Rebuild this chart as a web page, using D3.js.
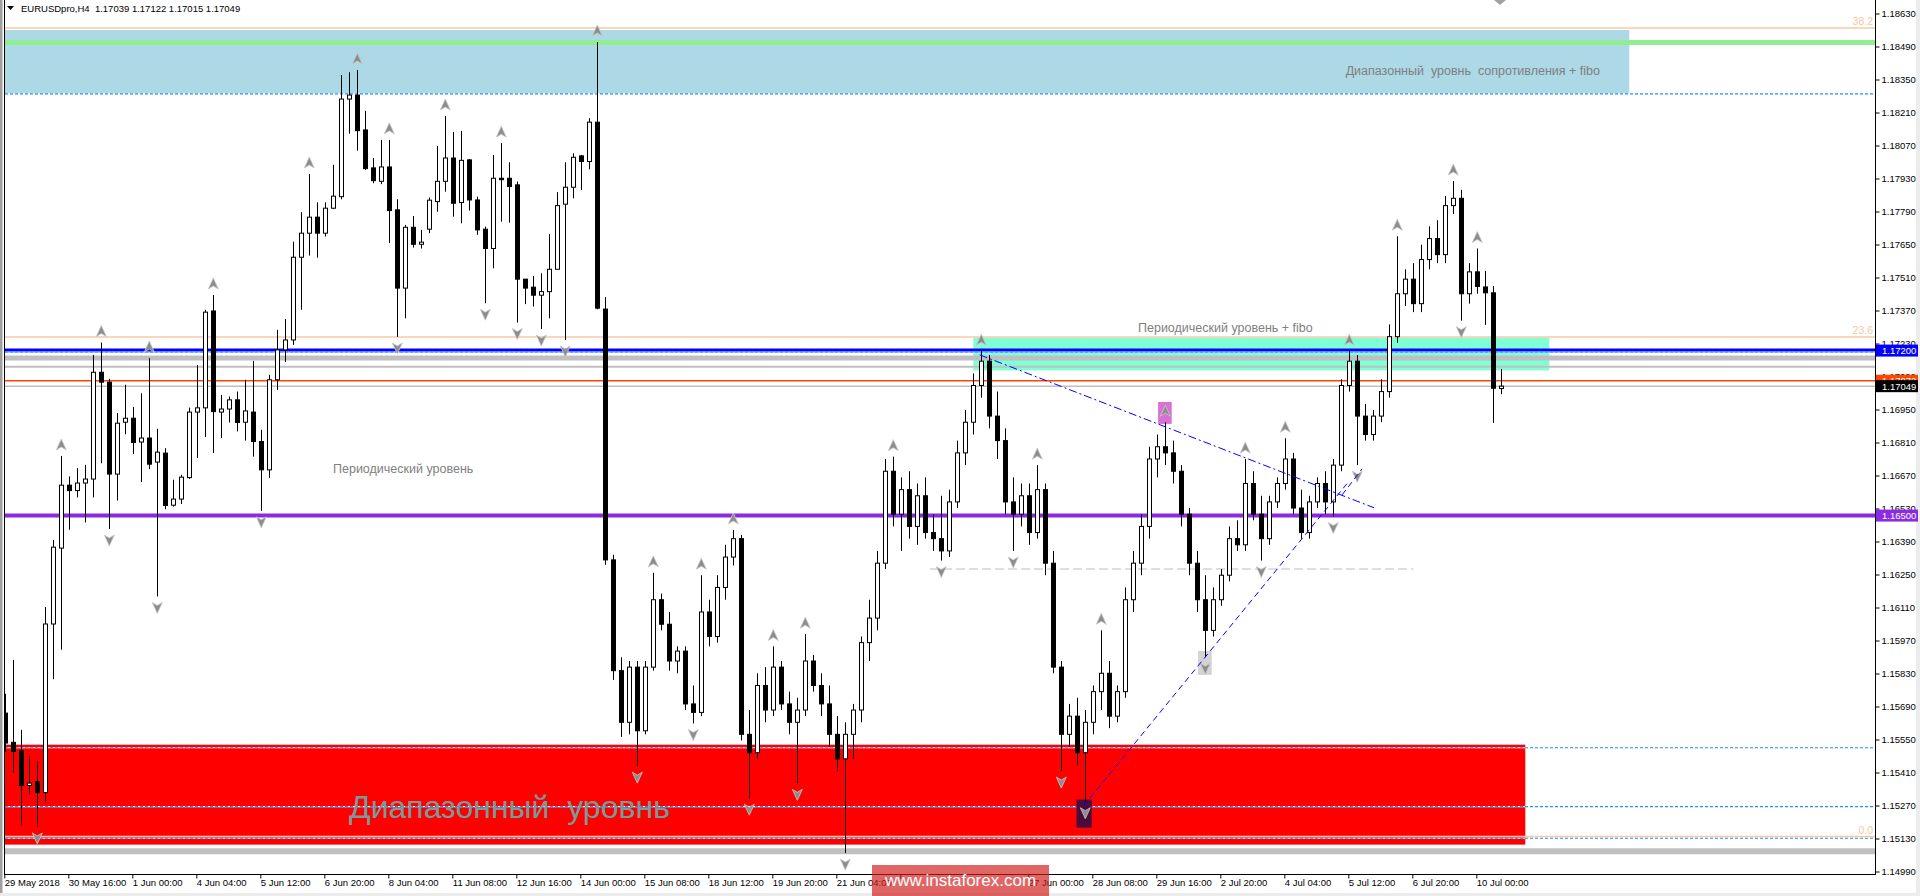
<!DOCTYPE html>
<html><head><meta charset="utf-8">
<script src="https://cdn.jsdelivr.net/npm/d3@7"></script>
<style>
html,body{margin:0;padding:0;background:#fff;overflow:hidden}
svg{display:block}
text{font-family:"Liberation Sans",Arial,sans-serif}
</style>
</head><body>
<svg id="c" width="1920" height="896"></svg>
<script>
// ---- data (EURUSDpro, H4) ----
const opens  = [1.15662,1.15538,1.15502,1.15355,1.15371,1.15325,1.16040,1.16362,1.16629,1.16606,1.16638,1.16655,1.17108,1.17066,1.16676,1.16896,1.16913,1.16812,1.16829,1.16727,
1.16765,1.16544,1.16570,1.16661,1.16939,1.16957,1.17368,1.16939,1.16952,1.16991,1.16896,1.16939,1.16814,1.16694,1.17076,1.17203,1.17245,1.17596,1.17698,1.17766,
1.17698,1.17804,1.17853,1.18267,1.18284,1.18136,1.17975,1.17918,1.17979,1.17797,1.17465,1.17723,1.17651,1.17715,1.17832,1.17918,1.18017,1.17828,1.18009,1.17839,
1.17715,1.17633,1.17931,1.17931,1.17903,1.17503,1.17469,1.17435,1.17450,1.17545,1.17821,1.17893,1.18026,1.18002,1.18169,1.17376,1.16312,1.15842,1.15623,1.15857,
1.15587,1.15857,1.16143,1.16039,1.15883,1.15925,1.15701,1.15665,1.16091,1.15987,1.16195,1.16324,1.16402,1.15572,1.15494,1.15779,1.15675,1.15857,1.15701,1.15623,
1.15675,1.15883,1.15779,1.15701,1.15572,1.15468,1.15572,1.15675,1.15961,1.16065,1.16298,1.16688,1.16506,1.16610,1.16454,1.16584,1.16428,1.16402,1.16350,1.16558,
1.16766,1.16896,1.17052,1.17155,1.16922,1.16818,1.16558,1.16506,1.16584,1.16428,1.16610,1.16298,1.15857,1.15572,1.15649,1.15494,1.15623,1.15753,1.15831,1.15649,
1.15753,1.16143,1.16298,1.16454,1.16740,1.16792,1.16766,1.16688,1.16506,1.16298,1.16143,1.16013,1.16143,1.16247,1.16402,1.16376,1.16636,1.16506,1.16402,1.16558,
1.16636,1.16740,1.16532,1.16428,1.16558,1.16636,1.16558,1.16714,1.17052,1.17155,1.16922,1.16844,1.16922,1.17026,1.17259,1.17441,1.17503,1.17399,1.17586,1.17675,
1.17607,1.17815,1.17846,1.17441,1.17534,1.17470,1.17445,1.17039];
const highs  = [1.15744,1.15888,1.15591,1.15481,1.15457,1.16112,1.16397,1.16753,1.16666,1.16701,1.16715,1.17182,1.17234,1.17080,1.16935,1.17055,1.16961,1.17019,1.17168,1.16868,
1.16786,1.16652,1.16673,1.16958,1.17139,1.17373,1.17436,1.17012,1.17005,1.17026,1.17076,1.17156,1.16864,1.17097,1.17288,1.17334,1.17662,1.17787,1.17949,1.17829,
1.17829,1.17988,1.18369,1.18381,1.18390,1.18217,1.18017,1.18094,1.18094,1.17842,1.17733,1.17771,1.17712,1.17849,1.18068,1.18195,1.18128,1.18132,1.18013,1.17853,
1.17726,1.18030,1.18080,1.17999,1.17917,1.17503,1.17517,1.17528,1.17694,1.17872,1.17999,1.18037,1.18030,1.18186,1.18509,1.17427,1.16334,1.15899,1.15883,1.15883,
1.15883,1.16257,1.16169,1.16091,1.15945,1.15945,1.15779,1.16247,1.16143,1.16247,1.16376,1.16439,1.16418,1.15675,1.15831,1.15857,1.15945,1.15883,1.15753,1.15727,
1.15997,1.15909,1.15831,1.15779,1.15649,1.15623,1.15701,1.15987,1.16143,1.16350,1.16740,1.16750,1.16662,1.16688,1.16636,1.16662,1.16506,1.16584,1.16610,1.16818,
1.16948,1.17103,1.17197,1.17181,1.17026,1.16870,1.16662,1.16636,1.16636,1.16714,1.16636,1.16350,1.15883,1.15701,1.15727,1.15675,1.15779,1.16013,1.15883,1.15779,
1.16195,1.16350,1.16506,1.16792,1.16844,1.16896,1.16818,1.16714,1.16532,1.16350,1.16247,1.16195,1.16273,1.16454,1.16480,1.16740,1.16688,1.16584,1.16584,1.16662,
1.16828,1.16766,1.16610,1.16584,1.16662,1.16688,1.16740,1.17078,1.17197,1.17181,1.16974,1.16948,1.17078,1.17311,1.17685,1.17545,1.17571,1.17649,1.17727,1.17753,
1.17856,1.17919,1.17882,1.17571,1.17633,1.17538,1.17474,1.17122];
const lows   = [1.15498,1.15410,1.15184,1.15316,1.15179,1.15283,1.15806,1.15931,1.16440,1.16577,1.16471,1.16577,1.16722,1.16443,1.16564,1.16845,1.16761,1.16642,1.16697,1.16157,
1.16527,1.16538,1.16549,1.16656,1.16744,1.16833,1.16765,1.16829,1.16895,1.16857,1.16818,1.16750,1.16520,1.16660,1.17033,1.17152,1.17224,1.17373,1.17603,1.17594,
1.17684,1.17800,1.17842,1.18120,1.18048,1.17966,1.17910,1.17906,1.17656,1.17258,1.17337,1.17637,1.17633,1.17698,1.17789,1.17874,1.17768,1.17740,1.17794,1.17691,
1.17401,1.17549,1.17747,1.17743,1.17319,1.17397,1.17387,1.17291,1.17337,1.17545,1.17245,1.17846,1.17881,1.17969,1.17375,1.16291,1.15803,1.15561,1.15572,1.15437,
1.15572,1.15842,1.16013,1.15842,1.15831,1.15675,1.15618,1.15649,1.15945,1.15961,1.16143,1.16288,1.15546,1.15301,1.15468,1.15623,1.15649,1.15675,1.15572,1.15364,
1.15649,1.15753,1.15649,1.15520,1.15416,1.15068,1.15468,1.15623,1.15883,1.16013,1.16273,1.16454,1.16350,1.16402,1.16376,1.16402,1.16350,1.16309,1.16324,1.16532,
1.16714,1.16844,1.17000,1.16870,1.16740,1.16506,1.16350,1.16454,1.16376,1.16402,1.16247,1.15831,1.15416,1.15520,1.15442,1.15286,1.15572,1.15675,1.15598,1.15623,
1.15727,1.16091,1.16247,1.16402,1.16662,1.16714,1.16636,1.16454,1.16247,1.16091,1.15899,1.15987,1.16117,1.16221,1.16350,1.16350,1.16480,1.16309,1.16376,1.16532,
1.16610,1.16506,1.16402,1.16402,1.16532,1.16506,1.16496,1.16688,1.17026,1.16714,1.16818,1.16818,1.16896,1.17000,1.17233,1.17389,1.17363,1.17363,1.17545,1.17571,
1.17571,1.17779,1.17327,1.17399,1.17441,1.17309,1.16893,1.17015];
const closes = [1.15535,1.15499,1.15355,1.15365,1.15325,1.16040,1.16366,1.16629,1.16606,1.16638,1.16655,1.17108,1.17066,1.16676,1.16892,1.16913,1.16810,1.16829,1.16718,1.16769,
1.16543,1.16570,1.16663,1.16939,1.16957,1.17363,1.16941,1.16952,1.16991,1.16895,1.16944,1.16814,1.16694,1.17076,1.17203,1.17245,1.17596,1.17698,1.17766,1.17698,
1.17804,1.17855,1.18267,1.18284,1.18133,1.17972,1.17921,1.17979,1.17794,1.17465,1.17723,1.17651,1.17660,1.17838,1.17918,1.18017,1.17825,1.18007,1.17839,1.17712,
1.17633,1.17931,1.17925,1.17896,1.17503,1.17465,1.17435,1.17450,1.17545,1.17815,1.17893,1.18020,1.18002,1.18169,1.17380,1.16312,1.15842,1.15623,1.15857,1.15587,
1.15857,1.16143,1.16039,1.15883,1.15925,1.15701,1.15665,1.16091,1.15987,1.16195,1.16324,1.16402,1.15572,1.15494,1.15779,1.15675,1.15857,1.15701,1.15623,1.15675,
1.15883,1.15779,1.15701,1.15572,1.15468,1.15572,1.15675,1.15961,1.16065,1.16298,1.16688,1.16506,1.16610,1.16454,1.16584,1.16428,1.16402,1.16350,1.16558,1.16766,
1.16896,1.17052,1.17155,1.16922,1.16818,1.16558,1.16506,1.16584,1.16428,1.16610,1.16298,1.15857,1.15572,1.15649,1.15494,1.15623,1.15753,1.15831,1.15649,1.15753,
1.16143,1.16298,1.16454,1.16740,1.16792,1.16766,1.16688,1.16506,1.16298,1.16143,1.16013,1.16143,1.16247,1.16402,1.16376,1.16636,1.16506,1.16402,1.16558,1.16636,
1.16740,1.16532,1.16428,1.16558,1.16636,1.16558,1.16714,1.17052,1.17155,1.16922,1.16844,1.16922,1.17026,1.17259,1.17441,1.17503,1.17399,1.17586,1.17675,1.17607,
1.17815,1.17846,1.17441,1.17534,1.17472,1.17445,1.17040,1.17049];

const timeLabels = ["29 May 2018","30 May 16:00","1 Jun 00:00","4 Jun 04:00","5 Jun 12:00","6 Jun 20:00","8 Jun 04:00","11 Jun 08:00","12 Jun 16:00","14 Jun 00:00","15 Jun 08:00","18 Jun 12:00","19 Jun 20:00","21 Jun 04:00","22 Jun 12:00","25 Jun 16:00","27 Jun 00:00","28 Jun 08:00","29 Jun 16:00","2 Jul 20:00","4 Jul 04:00","5 Jul 12:00","6 Jul 20:00","10 Jul 00:00"];
const timeLabelBars = [0,8,16,24,32,40,48,56,64,72,80,88,96,104,112,120,128,136,144,152,160,168,176,184];
const priceTicks = [1.18630,1.18490,1.18350,1.18210,1.18070,1.17930,1.17790,1.17650,1.17510,1.17370,1.17230,1.17090,1.16950,1.16810,1.16670,1.16530,1.16390,1.16250,1.16110,1.15970,1.15830,1.15690,1.15550,1.15410,1.15270,1.15130,1.14990];
const fractalUp   = [7,12,18,26,38,44,48,55,62,74,81,87,91,96,100,111,122,129,137,145,155,160,168,174,181,184];
const fractalDown = [4,13,19,32,49,60,64,67,70,79,86,93,99,105,117,126,132,135,150,157,166,169,182];

// horizontal levels (price)
const solidLevels = [
  {p:1.18507,c:"#90ee90",w:5},
  {p:1.17200,c:"#0000ff",w:4},
  {p:1.17169,c:"#c0c0c0",w:5},
  {p:1.17131,c:"#c0c0c0",w:2},
  {p:1.17072,c:"#ff4500",w:1.5},
  {p:1.17049,c:"#c0c0c0",w:1.5},
  {p:1.16500,c:"#8a2be2",w:4},
  {p:1.15076,c:"#c0c0c0",w:6}
];
const dashedLevels = [1.18289,1.17194,1.15515,1.15265,1.15131];
const fiboLevels = [{p:1.18569,t:"38.2"},{p:1.17258,t:"23.6"},{p:1.15138,t:"0.0"}];
const boxes = [
  {i0:-1,i1:203,p0:1.18560,p1:1.18289,c:"#add8e6"},
  {i0:121,i1:193,p0:1.17254,p1:1.17116,c:"#7fffd4"},
  {i0:-1,i1:190,p0:1.15528,p1:1.15104,c:"#ff0000"}
];
const squares = [
  {i0:144.1,i1:145.8,p0:1.16982,p1:1.16889,c:"#da70d6"},
  {i0:149.1,i1:150.8,p0:1.15926,p1:1.15824,c:"#d3d3d3"},
  {i0:133.9,i1:135.8,p0:1.15295,p1:1.15176,c:"#4b0a3c"}
];
const trendLines = [
  {i0:121.8,p0:1.17182,i1:171.1,p1:1.16533,dash:"8,3,2,3"},
  {i0:134.8,p0:1.15269,i1:167.7,p1:1.16635,dash:"6,4"},
  {i0:167.1,p0:1.16588,i1:169.6,p1:1.16698,dash:"6,4"}
];
const markers = [
  {p:1.17200,t:"1.17200",bg:"#0000ff"},
  {p:1.17072,t:"1.17072",bg:"#ff4500"},
  {p:1.17049,t:"1.17049",bg:"#000000"},
  {p:1.16500,t:"1.16500",bg:"#8a2be2"}
];

// ---- layout ----
const L=5, R=1875, T=0, B=874;
const WM={x:872,y:865,w:177,h:31};
const svg=d3.select("#c");
const x=d3.scaleLinear().domain([0,187]).range([5.3,5.3+8*187]);
const y=d3.scaleLinear().domain([1.14990,1.18630]).range([871.5,13.5]);

svg.append("rect").attr("width",1920).attr("height",896).attr("fill","#fff");
svg.append("defs").append("clipPath").attr("id","clip").append("rect")
  .attr("x",L).attr("y",T).attr("width",R-L).attr("height",B-T);
const g=svg.append("g").attr("clip-path","url(#clip)");

// boxes
g.selectAll("rect.box").data(boxes).join("rect").attr("class","box")
  .attr("x",d=>x(d.i0)).attr("width",d=>x(d.i1)-x(d.i0))
  .attr("y",d=>y(d.p0)).attr("height",d=>y(d.p1)-y(d.p0)).attr("fill",d=>d.c);

// fibo lines
g.selectAll("line.fib").data(fiboLevels).join("line")
  .attr("x1",L).attr("x2",R).attr("y1",d=>y(d.p)).attr("y2",d=>y(d.p))
  .attr("stroke","#f8c8a4").attr("stroke-width",1.5);
svg.selectAll("text.fib").data(fiboLevels).join("text")
  .attr("x",R-2).attr("y",d=>y(d.p)-3).attr("text-anchor","end")
  .attr("font-size",10.5).attr("fill","#f8c8a4").text(d=>d.t);

// solid levels
g.selectAll("line.lv").data(solidLevels).join("line")
  .attr("x1",L).attr("x2",R).attr("y1",d=>y(d.p)).attr("y2",d=>y(d.p))
  .attr("stroke",d=>d.c).attr("stroke-width",d=>d.w);

// dashed levels
dashedLevels.forEach(p=>{
  g.append("line").attr("x1",L).attr("x2",R).attr("y1",y(p)).attr("y2",y(p))
    .attr("stroke","#fff").attr("stroke-width",1.2);
  g.append("line").attr("x1",L).attr("x2",R).attr("y1",y(p)).attr("y2",y(p))
    .attr("stroke","#1e90ff").attr("stroke-width",1.2).attr("stroke-dasharray","3,2");
});
// dashed grey level
g.append("line").attr("x1",x(115.6)).attr("x2",x(176)).attr("y1",y(1.16273)).attr("y2",y(1.16273))
  .attr("stroke","#d3d3d3").attr("stroke-width",1.5).attr("stroke-dasharray","9,4");

// texts
g.append("text").attr("x",1600).attr("y",75).attr("text-anchor","end").attr("font-size",12.5)
  .attr("fill","#808080").style("white-space","pre")
  .text("Диапазонный  уровнь  сопротивления + fibo");
g.append("text").attr("x",1138).attr("y",332).attr("font-size",12.5)
  .attr("fill","#808080").text("Периодический уровень + fibo");
g.append("text").attr("x",333).attr("y",473).attr("font-size",12.5)
  .attr("fill","#808080").text("Периодический уровень");
g.append("text").attr("x",349).attr("y",818).attr("font-size",32)
  .attr("fill","#7a9a9a").style("white-space","pre").text("Диапазонный  уровнь");

// squares (under the candles and fractal arrows)
g.selectAll("rect.sq").data(squares).join("rect")
  .attr("x",d=>x(d.i0)).attr("width",d=>x(d.i1)-x(d.i0))
  .attr("y",d=>y(d.p0)).attr("height",d=>y(d.p1)-y(d.p0)).attr("fill",d=>d.c);

// candles
const n=opens.length;
const idx=d3.range(n);
const cg=g.append("g");
cg.selectAll("line.w").data(idx).join("line")
  .attr("x1",i=>Math.round(x(i))+0.5).attr("x2",i=>Math.round(x(i))+0.5)
  .attr("y1",i=>y(highs[i])).attr("y2",i=>y(lows[i]))
  .attr("stroke","#000").attr("stroke-width",1);
cg.selectAll("rect.b").data(idx).join("rect")
  .attr("x",i=>Math.round(x(i))-1.5).attr("width",4)
  .attr("y",i=>y(Math.max(opens[i],closes[i])))
  .attr("height",i=>Math.max(1,Math.abs(y(opens[i])-y(closes[i]))))
  .attr("fill",i=>closes[i]>=opens[i]?"#fff":"#000")
  .attr("stroke","#000").attr("stroke-width",1);

// fractal arrows
function arrow(sel,up){
  sel.append("path").attr("d",up?"M0,-6 L5,5 L0,2 L-5,5 Z":"M0,6 L5,-5 L0,-2 L-5,-5 Z")
    .attr("fill","#8c8c8c").attr("stroke","#c8c8c8").attr("stroke-width",0.8);
}
fractalUp.filter(i=>i<n).forEach(i=>{
  const s=g.append("g").attr("transform",`translate(${x(i)},${y(highs[i])-11})`); arrow(s,true);
});
fractalDown.filter(i=>i<n).forEach(i=>{
  const s=g.append("g").attr("transform",`translate(${x(i)},${y(lows[i])+11})`); arrow(s,false);
});

// trend lines
g.selectAll("line.tl").data(trendLines).join("line")
  .attr("x1",d=>x(d.i0)).attr("y1",d=>y(d.p0)).attr("x2",d=>x(d.i1)).attr("y2",d=>y(d.p1))
  .attr("stroke","#0000ff").attr("stroke-width",1).attr("stroke-dasharray",d=>d.dash);

// frame
svg.append("rect").attr("x",0).attr("y",0).attr("width",2.5).attr("height",896).attr("fill","#a0a0a0");
svg.append("line").attr("x1",4.5).attr("x2",4.5).attr("y1",0).attr("y2",B).attr("stroke","#000");
svg.append("line").attr("x1",R+0.5).attr("x2",R+0.5).attr("y1",0).attr("y2",B).attr("stroke","#000");
svg.append("line").attr("x1",4).attr("x2",R+1).attr("y1",B+0.5).attr("y2",B+0.5).attr("stroke","#000");
svg.append("rect").attr("x",1916).attr("y",0).attr("width",4).attr("height",896).attr("fill","#ececec");
svg.append("rect").attr("x",0).attr("y",893).attr("width",1920).attr("height",3).attr("fill","#ececec");

// price axis
const ay=svg.append("g").attr("transform",`translate(${R+0.5},0)`)
  .call(d3.axisRight(y).tickValues(priceTicks).tickSize(4).tickPadding(2).tickFormat(d3.format(".5f")));
ay.select(".domain").remove();
ay.selectAll("text").attr("font-size",9.5).attr("font-family","Liberation Sans, Arial, sans-serif").attr("fill","#000");
// current-level markers
const mk=svg.selectAll("g.mk").data(markers).join("g").attr("transform",d=>`translate(${R+1},${y(d.p)})`);
mk.append("rect").attr("x",0).attr("y",-6).attr("width",42).attr("height",12).attr("fill",d=>d.bg);
mk.append("text").attr("x",6).attr("y",3.5).attr("font-size",9.5).attr("fill","#fff").text(d=>d.t);

// time axis (labels lying fully under the watermark are not visible in the original)
const ax=svg.append("g").attr("transform",`translate(0,${B+0.5})`)
  .call(d3.axisBottom(x).tickValues(timeLabelBars).tickSize(4).tickFormat((d,k)=>timeLabels[k]));
ax.select(".domain").remove();
ax.selectAll(".tick line").attr("transform","translate(-1,0)");
ax.selectAll("text").attr("text-anchor","start").attr("dx",-1).attr("dy","0.45em")
  .attr("font-size",9.5).attr("font-family","Liberation Sans, Arial, sans-serif").attr("fill","#000");
ax.selectAll(".tick").filter(d=>x(d)>WM.x && x(d)+58<WM.x+WM.w).select("text").remove();

// title
svg.append("path").attr("d","M7,6 L14,6 L10.5,10 Z").attr("fill","#000");
svg.append("text").attr("x",21).attr("y",12).attr("font-size",9.5).attr("fill","#000")
  .style("white-space","pre").text("EURUSDpro,H4  1.17039 1.17122 1.17015 1.17049");
// chart shift marker
svg.append("path").attr("d","M1494,0 L1506,0 L1500,5 Z").attr("fill","#a0a0a0");

// watermark
const wm=svg.append("g");
wm.append("rect").attr("x",WM.x).attr("y",WM.y).attr("width",WM.w).attr("height",WM.h).attr("fill","rgba(210,30,30,0.68)");
wm.append("text").attr("x",WM.x+WM.w/2).attr("y",886).attr("text-anchor","middle").attr("font-size",17)
  .attr("fill","#fff").text("www.instaforex.com");
</script>
</body></html>
